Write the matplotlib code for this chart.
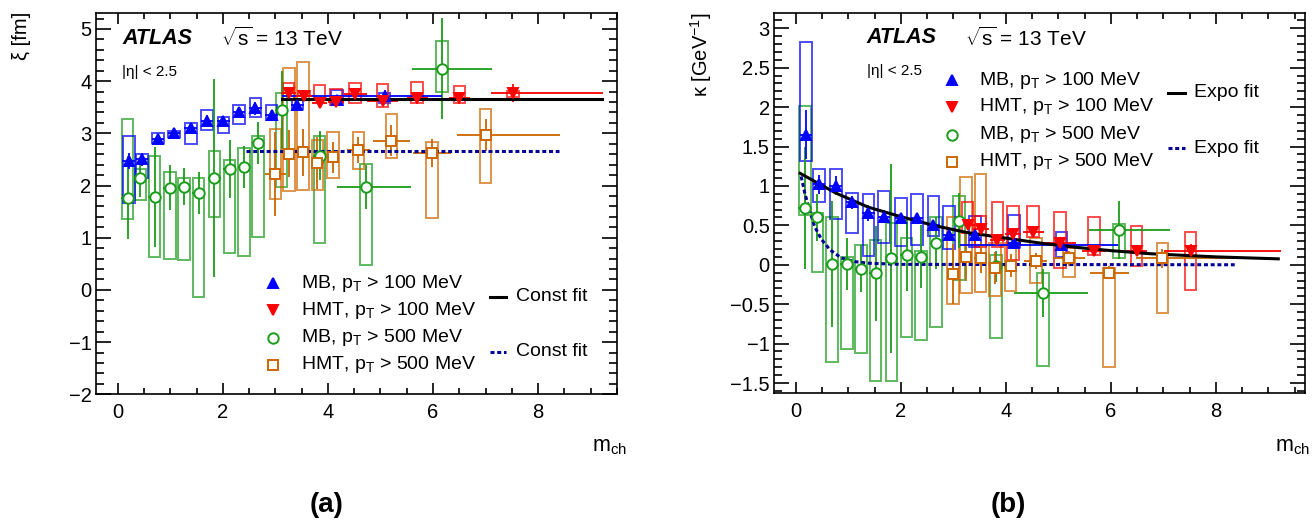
import matplotlib
matplotlib.use('Agg')
import matplotlib.pyplot as plt
from matplotlib.patches import Rectangle
from matplotlib.ticker import MultipleLocator, FuncFormatter

plt.rcParams['font.family'] = ['Liberation Sans', 'DejaVu Sans']
plt.rcParams['mathtext.fontset'] = 'custom'
plt.rcParams['mathtext.rm'] = 'Liberation Sans'
plt.rcParams['mathtext.it'] = 'Liberation Sans:italic'
plt.rcParams['mathtext.bf'] = 'Liberation Sans:bold'

# ---------------- panel (a): xi [fm] ----------------
xi_mb100_x = [0.21, 0.46, 0.77, 1.07, 1.39, 1.70, 2.01, 2.31, 2.62, 2.93, 3.42, 4.17, 5.08]
xi_mb100_y = [2.47, 2.50, 2.90, 3.00, 3.10, 3.24, 3.23, 3.40, 3.48, 3.35, 3.55, 3.64, 3.72]
xi_mb100_stat = [0.15, 0.12, 0.08, 0.07, 0.10, 0.12, 0.10, 0.10, 0.12, 0.08, 0.06, 0.10, 0.12]
xi_mb100_xlo = [0.12] * 12 + [1.96]
xi_mb100_xhi = [0.12] * 12 + [1.09]
xi_mb100_syslo = [1.67, 2.14, 2.81, 2.93, 2.80, 3.07, 3.00, 3.18, 3.32, 3.26, 3.46, 3.55, 3.58]
xi_mb100_syshi = [2.94, 2.60, 3.01, 3.05, 3.20, 3.44, 3.31, 3.55, 3.67, 3.55, 3.66, 3.83, 3.78]

xi_hmt100_x = [3.25, 3.54, 3.84, 4.15, 4.52, 5.04, 5.70, 6.50, 7.52]
xi_hmt100_y = [3.77, 3.72, 3.58, 3.61, 3.76, 3.62, 3.67, 3.67, 3.77]
xi_hmt100_stat = [0.10, 0.08, 0.10, 0.10, 0.10, 0.10, 0.10, 0.10, 0.17]
xi_hmt100_xlo = [0.15, 0.15, 0.15, 0.15, 0.22, 0.30, 0.20, 0.20, 0.42]
xi_hmt100_xhi = [0.15, 0.15, 0.15, 0.15, 0.22, 0.30, 0.20, 0.20, 1.72]
xi_hmt100_syslo = [3.64, 3.71, 3.66, 3.55, 3.58, 3.50, 3.58, 3.59, 3.69]
xi_hmt100_syshi = [3.97, 3.82, 3.93, 3.85, 3.96, 3.94, 3.98, 3.91, 3.82]

xi_mb500_x = [0.19, 0.43, 0.70, 0.99, 1.26, 1.54, 1.84, 2.13, 2.40, 2.67, 3.12, 3.84, 4.73, 6.17]
xi_mb500_y = [1.77, 2.14, 1.78, 1.96, 1.98, 1.85, 2.14, 2.32, 2.36, 2.81, 3.45, 2.57, 1.98, 4.24]
xi_mb500_stat = [0.80, 0.35, 0.96, 0.43, 0.35, 0.40, 1.90, 0.55, 0.40, 0.40, 0.75, 0.47, 0.42, 0.97]
xi_mb500_xlo = [0.12] * 12 + [0.55, 0.57]
xi_mb500_xhi = [0.12] * 12 + [0.85, 0.96]
xi_mb500_syslo = [1.36, 1.73, 0.63, 0.59, 0.58, -0.14, 1.39, 0.70, 0.65, 1.02, 1.98, 0.90, 0.48, 3.80]
xi_mb500_syshi = [3.27, 2.32, 2.56, 2.25, 2.14, 2.14, 2.67, 2.49, 2.72, 2.94, 3.77, 2.95, 2.42, 4.76]

xi_hmt500_x = [3.00, 3.26, 3.53, 3.80, 4.10, 4.58, 5.21, 5.98, 7.00]
xi_hmt500_y = [2.22, 2.61, 2.64, 2.43, 2.54, 2.68, 2.86, 2.63, 2.97]
xi_hmt500_stat = [0.80, 0.45, 0.45, 0.50, 0.30, 0.25, 0.30, 0.27, 0.30]
xi_hmt500_xlo = [0.20, 0.12, 0.12, 0.12, 0.12, 0.22, 0.36, 0.37, 0.55]
xi_hmt500_xhi = [0.20, 0.12, 0.12, 0.12, 0.12, 0.22, 0.36, 0.37, 1.42]
xi_hmt500_syslo = [1.74, 1.90, 1.92, 1.92, 2.14, 2.32, 2.52, 1.38, 2.05]
xi_hmt500_syshi = [3.08, 4.25, 4.36, 2.88, 3.03, 3.03, 3.37, 2.84, 3.47]

xi_fit100_x = [3.12, 9.22]
xi_fit100_y = [3.66, 3.66]
xi_fit500_x = [2.45, 8.39]
xi_fit500_y = [2.66, 2.66]

# ---------------- panel (b): kappa [GeV^-1] ----------------
ka_mb100_x = [0.19, 0.44, 0.76, 1.07, 1.38, 1.68, 2.00, 2.31, 2.62, 2.92, 3.41, 4.16, 5.06]
ka_mb100_y = [1.65, 1.02, 1.00, 0.79, 0.66, 0.61, 0.59, 0.59, 0.50, 0.38, 0.38, 0.28, 0.25]
ka_mb100_stat = [0.31, 0.12, 0.12, 0.08, 0.10, 0.08, 0.07, 0.06, 0.06, 0.06, 0.06, 0.06, 0.08]
ka_mb100_xlo = [0.12] * 12 + [1.94]
ka_mb100_xhi = [0.12] * 12 + [1.08]
ka_mb100_syslo = [1.31, 0.79, 0.58, 0.40, 0.11, 0.27, 0.24, 0.25, 0.36, 0.20, 0.22, 0.23, 0.10]
ka_mb100_syshi = [2.82, 1.21, 1.21, 0.91, 0.90, 0.94, 0.85, 0.90, 0.87, 0.74, 0.62, 0.63, 0.42]

ka_hmt100_x = [3.27, 3.52, 3.84, 4.14, 4.52, 5.03, 5.68, 6.49, 7.52]
ka_hmt100_y = [0.50, 0.45, 0.32, 0.39, 0.41, 0.28, 0.17, 0.17, 0.18]
ka_hmt100_stat = [0.06, 0.06, 0.06, 0.06, 0.06, 0.06, 0.06, 0.06, 0.08]
ka_hmt100_xlo = [0.15, 0.15, 0.15, 0.15, 0.20, 0.30, 0.22, 0.20, 0.50]
ka_hmt100_xhi = [0.15, 0.15, 0.15, 0.15, 0.20, 0.30, 0.22, 0.20, 1.72]
ka_hmt100_syslo = [0.40, 0.23, 0.23, 0.06, 0.35, -0.04, 0.13, -0.01, -0.32]
ka_hmt100_syshi = [0.79, 0.62, 0.80, 0.74, 0.74, 0.67, 0.60, 0.49, 0.41]

ka_mb500_x = [0.17, 0.41, 0.69, 0.97, 1.24, 1.52, 1.82, 2.11, 2.38, 2.67, 3.11, 3.81, 4.71, 6.16]
ka_mb500_y = [0.72, 0.60, 0.01, 0.01, -0.05, -0.11, 0.08, 0.12, 0.10, 0.27, 0.56, -0.02, -0.36, 0.44]
ka_mb500_stat = [0.77, 0.30, 0.80, 0.33, 0.30, 0.60, 1.20, 0.45, 0.40, 0.33, 0.35, 0.20, 0.30, 0.37]
ka_mb500_xlo = [0.12] * 12 + [0.55, 0.58]
ka_mb500_xhi = [0.12] * 12 + [0.86, 0.96]
ka_mb500_syslo = [0.63, -0.09, -1.23, -1.07, -1.12, -1.47, -1.48, -0.91, -0.96, -0.79, -0.19, -0.93, -1.28, 0.08]
ka_mb500_syshi = [2.02, 0.66, 0.61, 0.10, 0.25, 0.31, 0.53, 0.34, 0.18, 0.61, 0.87, 0.12, -0.11, 0.52]

ka_hmt500_x = [2.99, 3.24, 3.52, 3.79, 4.09, 4.57, 5.20, 5.97, 6.98]
ka_hmt500_y = [-0.12, 0.10, 0.09, -0.04, -0.01, 0.05, 0.08, -0.10, 0.08]
ka_hmt500_stat = [0.38, 0.30, 0.20, 0.20, 0.15, 0.10, 0.10, 0.08, 0.12]
ka_hmt500_xlo = [0.12, 0.12, 0.12, 0.12, 0.12, 0.22, 0.30, 0.37, 0.50]
ka_hmt500_xhi = [0.12, 0.12, 0.12, 0.12, 0.12, 0.22, 0.30, 0.37, 1.42]
ka_hmt500_syslo = [-0.50, -0.36, -0.34, -0.40, -0.33, -0.23, -0.15, -1.30, -0.61]
ka_hmt500_syshi = [0.60, 1.11, 1.15, 0.28, 0.28, 0.34, 0.21, -0.04, 0.27]

# fit curves
ka_fit100_x = [0.08, 0.76, 1.38, 2.00, 2.62, 3.25, 4.08, 4.71, 5.35, 5.99, 6.75, 8.00, 9.19]
ka_fit100_y = [1.16, 0.91, 0.73, 0.61, 0.50, 0.41, 0.33, 0.27, 0.22, 0.18, 0.14, 0.10, 0.075]
ka_fit500_x = [0.10, 0.17, 0.27, 0.36, 0.49, 0.65, 0.87, 1.12, 1.38, 2.00, 8.36]
ka_fit500_y = [1.12, 0.91, 0.67, 0.48, 0.32, 0.19, 0.085, 0.04, 0.02, 0.005, 0.0]

legend_labels = [r'MB, p$_{\mathregular{T}}$ > 100 MeV', r'HMT, p$_{\mathregular{T}}$ > 100 MeV',
                 r'MB, p$_{\mathregular{T}}$ > 500 MeV', r'HMT, p$_{\mathregular{T}}$ > 500 MeV']

BLUE, RED, GREEN, ORANGE, NAVY = '#0000ff', '#ff0000', '#1a9c1a', '#cc6600', '#000099'
BOX_HALF = 0.11


def draw_series(ax, x, y, stat, xlo, xhi, syslo, syshi, color, marker, ms, hollow):
    for xi, lo, hi in zip(x, syslo, syshi):
        ax.add_patch(Rectangle((xi - BOX_HALF, lo), 2 * BOX_HALF, hi - lo, fill=False,
                               ec=color, alpha=0.7, lw=1.4, zorder=2))
    ax.errorbar(x, y, yerr=stat, xerr=[xlo, xhi], fmt='none', ecolor=color,
                elinewidth=1.3, capsize=0, zorder=3)
    ax.plot(x, y, ls='none', marker=marker, ms=ms, mfc='white' if hollow else color,
            mec=color, mew=1.4, zorder=5)


def style_axes(ax, xlim, ylim, ymaj, ymin):
    ax.set_xlim(*xlim)
    ax.set_ylim(*ylim)
    ax.xaxis.set_major_locator(MultipleLocator(2))
    ax.xaxis.set_minor_locator(MultipleLocator(0.5))
    ax.yaxis.set_major_locator(MultipleLocator(ymaj))
    ax.yaxis.set_minor_locator(MultipleLocator(ymin))
    fmt = FuncFormatter(lambda v, p: f'{v:g}'.replace('-', '\u2212'))
    ax.yaxis.set_major_formatter(fmt)
    ax.xaxis.set_major_formatter(fmt)
    ax.tick_params(which='both', direction='in', top=True, right=True, labelsize=14.5, width=1.2)
    ax.tick_params(axis='x', which='major', length=8, pad=6)
    ax.tick_params(axis='x', which='minor', length=4)
    ax.tick_params(axis='y', which='major', length=11, pad=3)
    ax.tick_params(axis='y', which='minor', length=5.5)
    for s in ax.spines.values():
        s.set_linewidth(1.2)


def draw_legend(ax, mx, tx, rows, fitx, fittx, fitrows, fitlabel):
    styles = [('^', BLUE, False, 7.5), ('v', RED, False, 7.5), ('o', GREEN, True, 7.5), ('s', ORANGE, True, 7)]
    for (m, c, hollow, ms), fy, lab in zip(styles, rows, legend_labels):
        ax.plot([mx], [fy], transform=ax.transAxes, marker=m, ms=ms, mec=c,
                mfc='white' if hollow else c, mew=1.4, ls='none', clip_on=False)
        ax.text(tx, fy, lab, transform=ax.transAxes, fontsize=14, va='center', ha='left')
    ax.plot(fitx, [fitrows[0]] * 2, transform=ax.transAxes, color='black', lw=2.2)
    ax.plot(fitx, [fitrows[1]] * 2, transform=ax.transAxes, color=NAVY, lw=2.2, ls=(0, (1.3, 0.9)))
    for fy in fitrows:
        ax.text(fittx, fy, fitlabel, transform=ax.transAxes, fontsize=14, va='center', ha='left')


def draw_header(ax, x0, x1):
    ax.text(x0, 0.935, 'ATLAS', transform=ax.transAxes, fontsize=15.5, fontweight='bold',
            fontstyle='italic', va='center', ha='left')
    ax.text(x1, 0.935, r'$\mathregular{\sqrt{s}}$ = 13 TeV', transform=ax.transAxes, fontsize=15,
            va='center', ha='left')
    ax.text(x0, 0.847, r'|η| < 2.5', transform=ax.transAxes, fontsize=11, va='center', ha='left')


fig = plt.figure(figsize=(13.14, 5.2), dpi=100)
ax1 = fig.add_axes([0.0728, 0.2417, 0.3967, 0.7327])
ax2 = fig.add_axes([0.5889, 0.2437, 0.4043, 0.7308])

draw_series(ax1, xi_mb500_x, xi_mb500_y, xi_mb500_stat, xi_mb500_xlo, xi_mb500_xhi,
            xi_mb500_syslo, xi_mb500_syshi, GREEN, 'o', 7.5, True)
draw_series(ax1, xi_hmt500_x, xi_hmt500_y, xi_hmt500_stat, xi_hmt500_xlo, xi_hmt500_xhi,
            xi_hmt500_syslo, xi_hmt500_syshi, ORANGE, 's', 7, True)
draw_series(ax1, xi_mb100_x, xi_mb100_y, xi_mb100_stat, xi_mb100_xlo, xi_mb100_xhi,
            xi_mb100_syslo, xi_mb100_syshi, BLUE, '^', 7.5, False)
draw_series(ax1, xi_hmt100_x, xi_hmt100_y, xi_hmt100_stat, xi_hmt100_xlo, xi_hmt100_xhi,
            xi_hmt100_syslo, xi_hmt100_syshi, RED, 'v', 7.5, False)
ax1.plot(xi_fit100_x, xi_fit100_y, color='black', lw=2.2, zorder=4)
ax1.plot(xi_fit500_x, xi_fit500_y, color=NAVY, lw=2.2, ls=(0, (1.3, 0.9)), zorder=4)
style_axes(ax1, (-0.42, 9.5), (-2, 5.3), 1, 0.2)
draw_header(ax1, 0.051, 0.240)
draw_legend(ax1, 0.340, 0.394, [0.291, 0.221, 0.149, 0.077],
            [0.756, 0.787], 0.807, [0.256, 0.112], 'Const fit')

draw_series(ax2, ka_mb500_x, ka_mb500_y, ka_mb500_stat, ka_mb500_xlo, ka_mb500_xhi,
            ka_mb500_syslo, ka_mb500_syshi, GREEN, 'o', 7.5, True)
draw_series(ax2, ka_hmt500_x, ka_hmt500_y, ka_hmt500_stat, ka_hmt500_xlo, ka_hmt500_xhi,
            ka_hmt500_syslo, ka_hmt500_syshi, ORANGE, 's', 7, True)
draw_series(ax2, ka_mb100_x, ka_mb100_y, ka_mb100_stat, ka_mb100_xlo, ka_mb100_xhi,
            ka_mb100_syslo, ka_mb100_syshi, BLUE, '^', 7.5, False)
draw_series(ax2, ka_hmt100_x, ka_hmt100_y, ka_hmt100_stat, ka_hmt100_xlo, ka_hmt100_xhi,
            ka_hmt100_syslo, ka_hmt100_syshi, RED, 'v', 7.5, False)
ax2.plot(ka_fit100_x, ka_fit100_y, color='black', lw=2.2, zorder=4)
ax2.plot(ka_fit500_x, ka_fit500_y, color=NAVY, lw=2.2, ls=(0, (1.3, 0.9)), zorder=4)
style_axes(ax2, (-0.42, 9.7), (-1.63, 3.19), 0.5, 0.1)
draw_header(ax2, 0.175, 0.359)
draw_legend(ax2, 0.3345, 0.386, [0.824, 0.754, 0.680, 0.609],
            [0.742, 0.774], 0.791, [0.791, 0.645], 'Expo fit')

fig.text(21.7 / 1314, 1 - 12 / 520, 'ξ [fm]', rotation=90, ha='center', va='top', fontsize=14.5)
fig.text(701 / 1314, 1 - 12 / 520, r'κ [GeV$^{\mathregular{-1}}$]', rotation=90,
         ha='center', va='top', fontsize=14.5)
fig.text(627 / 1314, 1 - 451 / 520, r'm$_{\mathregular{ch}}$', ha='right', va='baseline', fontsize=15.5)
fig.text(1310 / 1314, 1 - 451 / 520, r'm$_{\mathregular{ch}}$', ha='right', va='baseline', fontsize=15.5)
fig.text(327 / 1314, 1 - 505 / 520, '(a)', ha='center', va='center', fontsize=20, fontweight='bold')
fig.text(1008 / 1314, 1 - 505 / 520, '(b)', ha='center', va='center', fontsize=20, fontweight='bold')

fig.savefig('out.png', dpi=100)
